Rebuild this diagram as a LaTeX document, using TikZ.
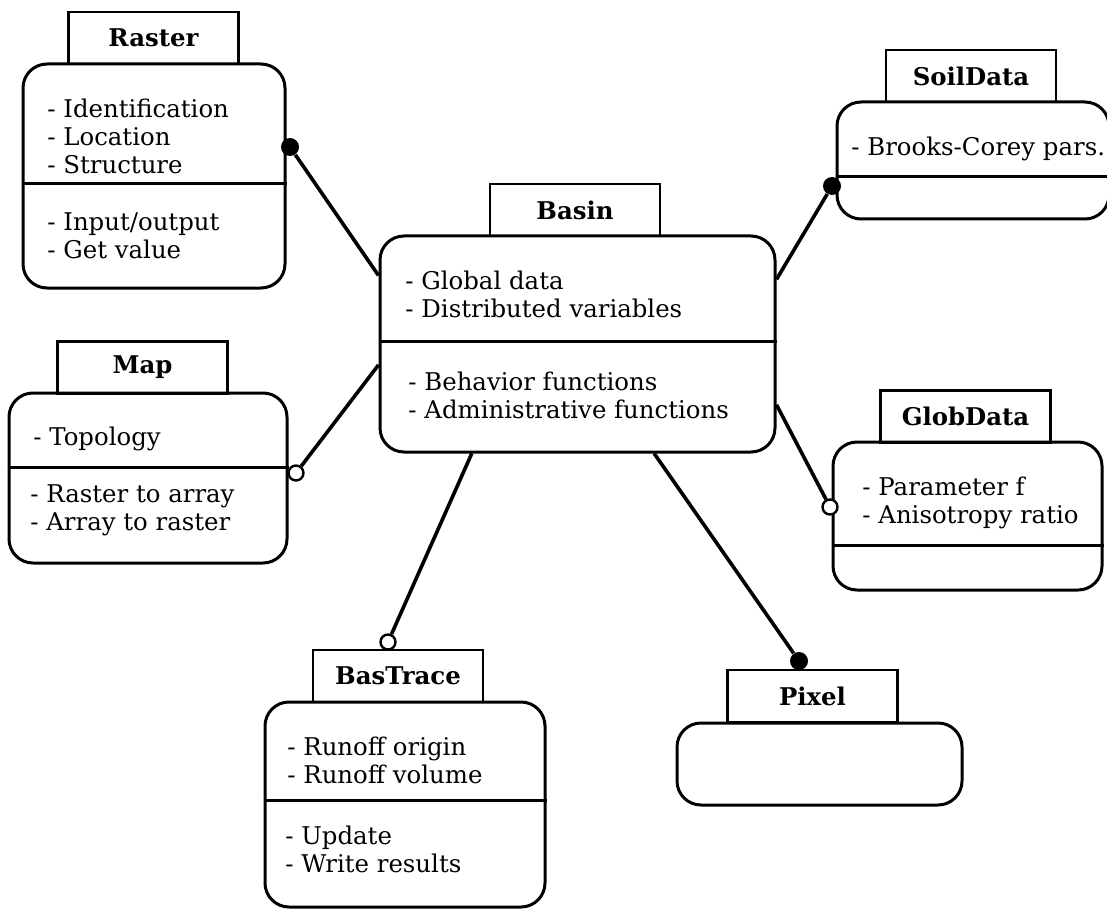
\documentclass[tikz,border=0pt]{standalone}
\usepackage{fontspec}
\setmainfont{DejaVu Serif}
\newcommand{\umlfont}{\fontsize{12.2}{14}\selectfont}

\begin{document}
\begin{tikzpicture}[x=0.5pt,y=-0.5pt,
  classbody/.style={draw,rounded corners=12pt,line width=1.5pt,inner sep=0},
  classtab/.style={draw,line width=1.2pt,minimum width=85pt,minimum height=26pt,inner sep=0,font=\umlfont\bfseries},
  members/.style={anchor=north west,align=left,inner sep=0,font=\umlfont},
  divider/.style={line width=1.5pt},
  link/.style={line width=1.8pt},
  dot/.style={circle,fill,inner sep=0,minimum size=9pt},
  ring/.style={circle,draw,fill=white,line width=1.2pt,inner sep=0,minimum size=7.5pt}]

\useasboundingbox (0,0) rectangle (1107,909);

% Class bodies
\node[classbody,minimum width=131pt,minimum height=112pt] (raster) at (154,176) {};
\node[classbody,minimum width=197.5pt,minimum height=108pt] (basin) at (577.5,344) {};
\node[classbody,minimum width=136pt,minimum height=58.5pt] (soil) at (973,160.5) {};
\node[classbody,minimum width=139pt,minimum height=85pt] (map) at (148,478) {};
\node[classbody,minimum width=134.5pt,minimum height=74pt] (glob) at (967.5,516) {};
\node[classbody,minimum width=140pt,minimum height=102.5pt] (trace) at (405,804.5) {};
\node[classbody,minimum width=142.5pt,minimum height=41pt] (pixel) at (819.5,764) {};

% Name tabs
\node[classtab] (raster-tab) at (153.5,38) {Raster};
\node[classtab] (basin-tab) at (575,210) {Basin};
\node[classtab] (soil-tab) at (971,76) {SoilData};
\node[classtab] (map-tab) at (142.5,367.5) {Map};
\node[classtab] (glob-tab) at (965.5,416.5) {GlobData};
\node[classtab] (trace-tab) at (398,676) {BasTrace};
\node[classtab] (pixel-tab) at (812.5,696) {Pixel};

% Compartment lines
\draw[divider] (raster.west |- 0,184) -- (raster.east |- 0,184);
\draw[divider] (basin.west |- 0,341) -- (basin.east |- 0,341);
\draw[divider] (soil.west |- 0,177) -- (soil.east |- 0,177);
\draw[divider] (map.west |- 0,467) -- (map.east |- 0,467);
\draw[divider] (glob.west |- 0,545) -- (glob.east |- 0,545);
\draw[divider] (trace.west |- 0,800) -- (trace.east |- 0,800);

% Attributes and operations
\node[members] (raster-attr) at (47,99) {- Identification\\- Location\\- Structure};
\node[members] (raster-ops) at (47,212) {- Input/output\\- Get value};
\node[members] (basin-attr) at (405,271) {- Global data\\- Distributed variables};
\node[members] (basin-ops) at (408,372) {- Behavior functions\\- Administrative functions};
\node[members] (soil-attr) at (851,137) {- Brooks-Corey pars.};
\node[members] (map-attr) at (33,427) {- Topology};
\node[members] (map-ops) at (30,484) {- Raster to array\\- Array to raster};
\node[members] (glob-attr) at (862,477) {- Parameter f\\- Anisotropy ratio};
\node[members] (trace-attr) at (287,737) {- Runoff origin\\- Runoff volume};
\node[members] (trace-ops) at (285,826) {- Update\\- Write results};

% Link ends
\node[dot] (raster-dot) at (290,147) {};
\node[dot] (soil-dot) at (832,186) {};
\node[dot] (pixel-dot) at (799,661) {};
\node[ring] (map-ring) at (296,473) {};
\node[ring] (glob-ring) at (830,507) {};
\node[ring] (trace-ring) at (388,642) {};

% Links to the basin
\draw[link] (raster-dot) -- (basin.161.5);
\draw[link] (map-ring) -- (basin.186.6);
\draw[link] (soil-dot) -- (basin.18);
\draw[link] (glob-ring) -- (basin.343.4);
\draw[link] (trace-ring) -- (basin.226.5);
\draw[link] (pixel-dot) -- (basin.305);

\end{tikzpicture}
\end{document}
